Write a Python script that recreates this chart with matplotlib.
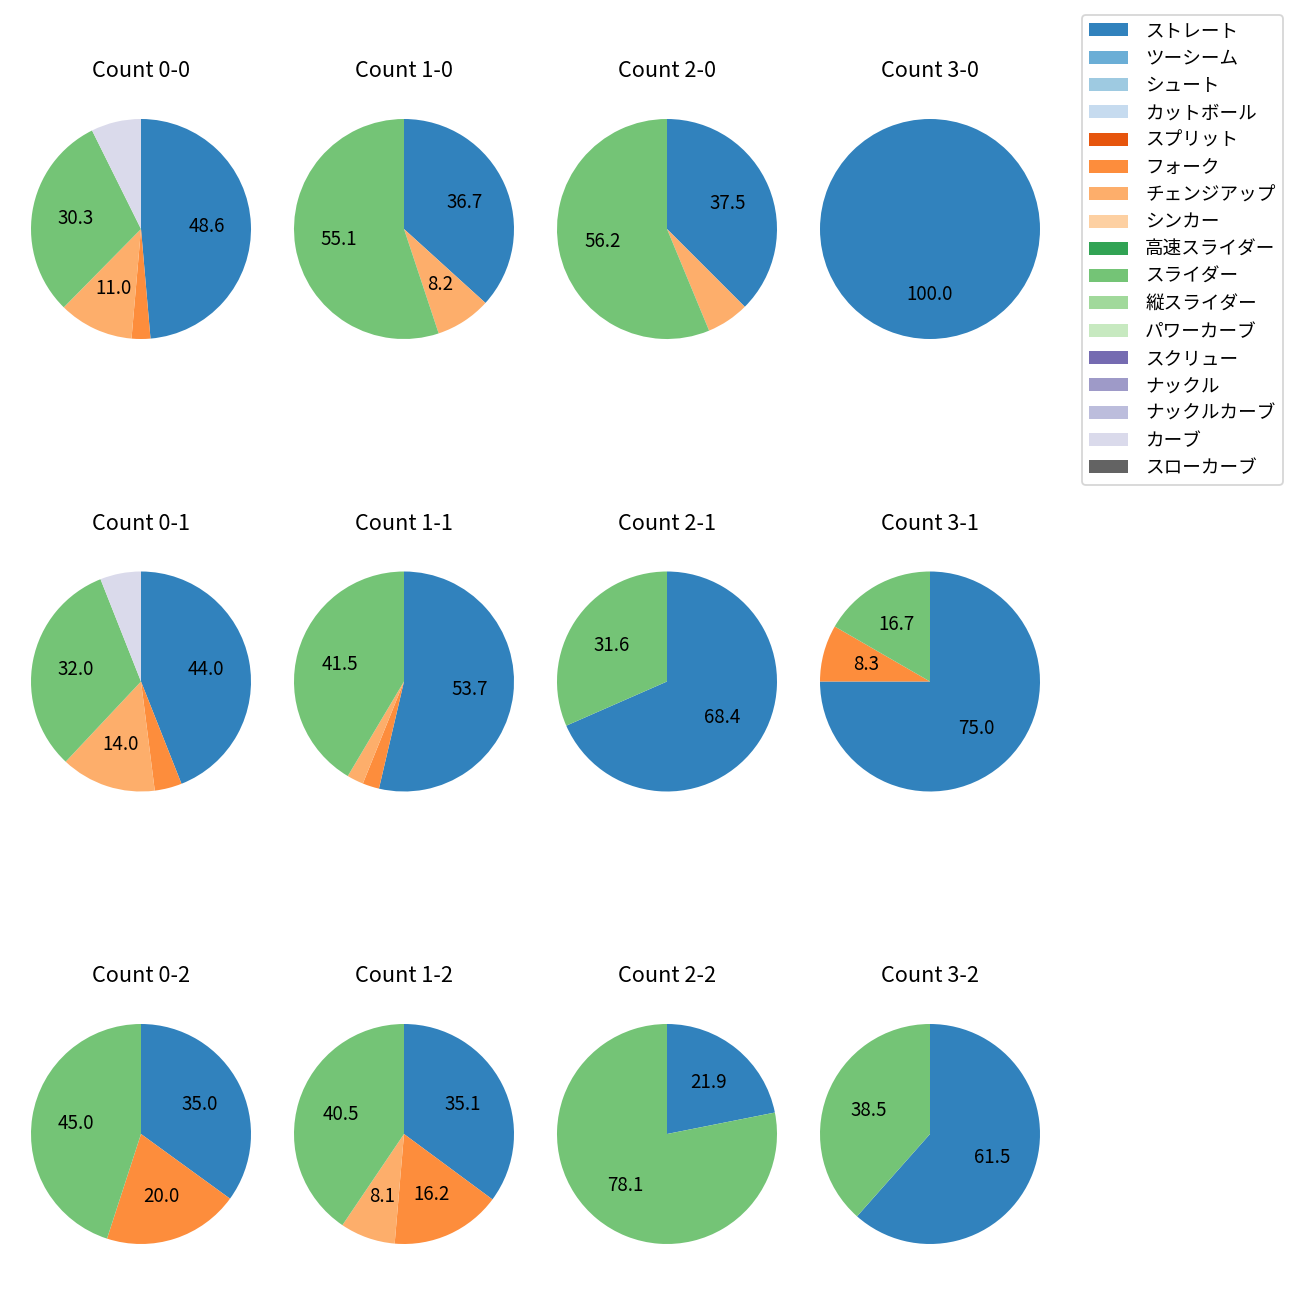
import matplotlib
matplotlib.use('Agg')
import matplotlib.pyplot as plt
from matplotlib.patches import Patch

plt.rcParams['font.family'] = ['Noto Sans CJK JP', 'DejaVu Sans']

# pitch types (legend order) and tab20c colours
pitch_types = ['ストレート', 'ツーシーム', 'シュート', 'カットボール', 'スプリット', 'フォーク',
               'チェンジアップ', 'シンカー', '高速スライダー', 'スライダー', '縦スライダー',
               'パワーカーブ', 'スクリュー', 'ナックル', 'ナックルカーブ', 'カーブ', 'スローカーブ']
cmap = plt.get_cmap('tab20c')
colors = {p: cmap(i) for i, p in enumerate(pitch_types)}

# pitch counts per ball-strike count
counts = ['0-0', '1-0', '2-0', '3-0',
          '0-1', '1-1', '2-1', '3-1',
          '0-2', '1-2', '2-2', '3-2']
data = {
    '0-0': {'ストレート': 53, 'フォーク': 3, 'チェンジアップ': 12, 'スライダー': 33, 'カーブ': 8},
    '1-0': {'ストレート': 18, 'チェンジアップ': 4, 'スライダー': 27},
    '2-0': {'ストレート': 6, 'チェンジアップ': 1, 'スライダー': 9},
    '3-0': {'ストレート': 5},
    '0-1': {'ストレート': 22, 'フォーク': 2, 'チェンジアップ': 7, 'スライダー': 16, 'カーブ': 3},
    '1-1': {'ストレート': 22, 'フォーク': 1, 'チェンジアップ': 1, 'スライダー': 17},
    '2-1': {'ストレート': 13, 'スライダー': 6},
    '3-1': {'ストレート': 9, 'フォーク': 1, 'スライダー': 2},
    '0-2': {'ストレート': 7, 'フォーク': 4, 'スライダー': 9},
    '1-2': {'ストレート': 13, 'フォーク': 6, 'チェンジアップ': 3, 'スライダー': 15},
    '2-2': {'ストレート': 7, 'スライダー': 25},
    '3-2': {'ストレート': 8, 'スライダー': 5},
}

W = H = 1300
fig = plt.figure(figsize=(10, 10), dpi=130)

box = 275
for i, c in enumerate(counts):
    r, col = divmod(i, 4)
    cx = 141 + 263 * col
    cy = 229 + 452.5 * r
    ax = fig.add_axes([(cx - box / 2) / W, 1 - (cy + box / 2) / H, box / W, box / H])
    d = data[c]
    labels = list(d.keys())
    vals = list(d.values())
    ax.pie(vals, colors=[colors[l] for l in labels], startangle=90, counterclock=False,
           autopct=lambda p: f'{p:.1f}' if p >= 8 else '',
           textprops={'fontsize': 10.4})
    ax.set_title(f'Count {c}', pad=8)

handles = [Patch(facecolor=colors[p], label=p) for p in pitch_types]
fig.legend(handles=handles, loc='upper right', bbox_to_anchor=(1283 / W, 1 - 15 / H),
           borderaxespad=0, fontsize=10.3, handlelength=2.1, handletextpad=0.9)

fig.savefig('out.png', dpi=130)
